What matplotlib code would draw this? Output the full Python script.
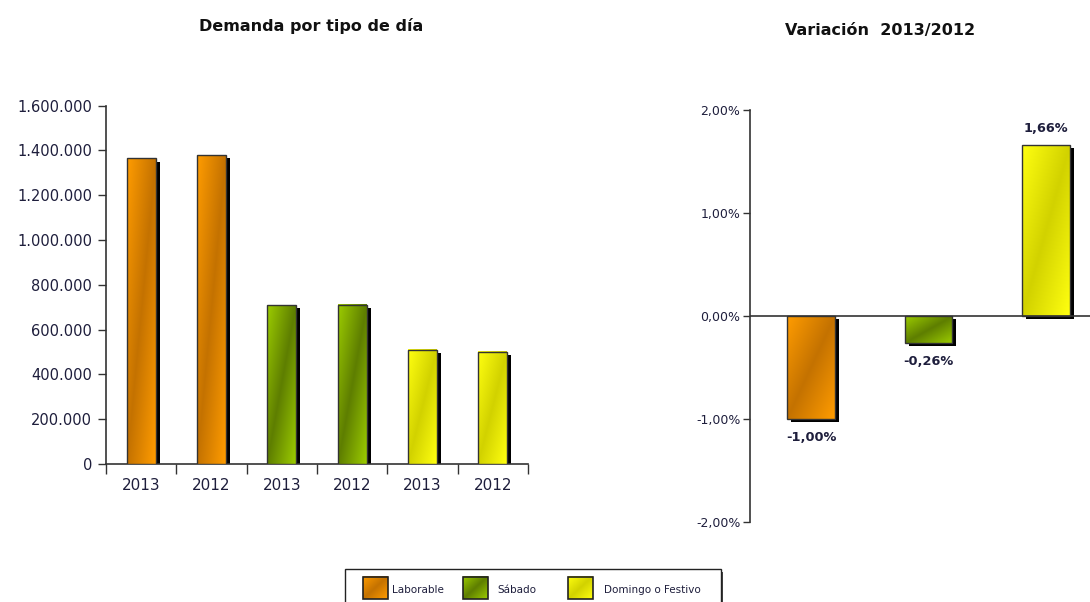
import numpy as np
import matplotlib
matplotlib.use('Agg')
import matplotlib.pyplot as plt
import matplotlib.patheffects as pe
from matplotlib.patches import Rectangle
from matplotlib.ticker import FuncFormatter

plt.rcParams['font.family'] = ['DejaVu Sans']

# --- data ---
tipos = ['Laborable', 'Sábado', 'Domingo o Festivo']
anios = ['2013', '2012']
demanda_2013 = [1366000, 710000, 509800]
demanda_2012 = [1379800, 711850, 501500]
variacion = [-1.00, -0.26, 1.66]   # %

# --- colours (light, dark) per tipo ---
COLS = [('#ff9c00', '#c47200'), ('#9ccc00', '#5e7e00'), ('#ffff10', '#d2d200')]
EDGE = '#333333'
TXT = '#1e1e3c'
SHADOW = [pe.SimplePatchShadow(offset=(3, -2.5), shadow_rgbFace='k', alpha=1), pe.Normal()]


def grad_img(light, dark, n=60):
    l = np.array(matplotlib.colors.to_rgb(light))
    d = np.array(matplotlib.colors.to_rgb(dark))
    u, v = np.meshgrid(np.linspace(0, 1, n), np.linspace(0, 1, n))
    t = (u + v) / 2
    w = 1 - np.abs(2 * t - 1)
    return l + (d - l) * w[..., None]


def fancy_bar(ax, x, h, width, cols):
    b = ax.bar(x, h, width, color=cols[1], edgecolor='none', zorder=2,
               path_effects=SHADOW)[0]
    x0, y0 = b.get_x(), b.get_y()
    ax.imshow(grad_img(*cols), extent=(x0, x0 + width, min(y0, y0 + h), max(y0, y0 + h)),
              origin='upper', aspect='auto', zorder=3, interpolation='bilinear')
    ax.bar(x, h, width, color='none', edgecolor=EDGE, linewidth=1, zorder=4)


fig = plt.figure(figsize=(10.9, 6.02), dpi=100, facecolor='white')

# ── Left: demanda ─────────────────────────────────────────
ax1 = fig.add_axes([106 / 1090, 1 - 464 / 602, 422 / 1090, 358.3 / 602])
labels, k = [], 0
for i, tipo in enumerate(tipos):
    for val, an in zip([demanda_2013[i], demanda_2012[i]], anios):
        fancy_bar(ax1, k, val, 0.41, COLS[i])
        labels.append(an)
        k += 1
ax1.set_xlim(-0.5, len(labels) - 0.5)
ax1.set_ylim(0, 1600000)
ax1.set_yticks(np.arange(0, 1600001, 200000))
ax1.yaxis.set_major_formatter(FuncFormatter(lambda v, p: f'{int(v):,}'.replace(',', '.')))
ax1.set_xticks(range(len(labels)))
ax1.set_xticklabels(labels)
ax1.set_xticks(np.arange(-0.5, len(labels)), minor=True)
ax1.tick_params(axis='x', which='major', length=0, pad=10, labelsize=11, labelcolor=TXT)
ax1.tick_params(axis='x', which='minor', length=7, width=1, color='#333333')
ax1.tick_params(axis='y', length=6, width=1, color='#333333', labelsize=10.5, labelcolor=TXT, pad=4)
for s in ['top', 'right']:
    ax1.spines[s].set_visible(False)
for s in ['left', 'bottom']:
    ax1.spines[s].set_color('#333333')
    ax1.spines[s].set_linewidth(1.2)
fig.text(311 / 1090, 1 - 26 / 602, 'Demanda por tipo de día', ha='center', va='center',
         fontsize=11.5, fontweight='bold', color='#111111')

# ── Right: variación ──────────────────────────────────────
ax2 = fig.add_axes([750 / 1090, 1 - 521.7 / 602, 340 / 1090, 411.7 / 602])
for i, v in enumerate(variacion):
    fancy_bar(ax2, i, v, 0.405, COLS[i])
    lbl = f'{v:.2f}%'.replace('.', ',')
    if v < 0:
        ax2.text(i, v - 0.12, lbl, ha='center', va='top', fontsize=9.3,
                 fontweight='bold', color=TXT)
    else:
        ax2.text(i, v + 0.1, lbl, ha='center', va='bottom', fontsize=9.3,
                 fontweight='bold', color=TXT)
ax2.axhline(0, color='#333333', lw=1.2, zorder=5)
ax2.set_xlim(-0.519, 2.374)
ax2.set_ylim(-2, 2)
ax2.set_yticks([-2, -1, 0, 1, 2])
ax2.yaxis.set_major_formatter(FuncFormatter(lambda v, p: f'{v:.2f}%'.replace('.', ',')))
ax2.set_xticks([])
ax2.tick_params(axis='y', length=5, width=1, color='#333333', labelsize=9, labelcolor=TXT, pad=2)
for s in ['top', 'right', 'bottom']:
    ax2.spines[s].set_visible(False)
ax2.spines['left'].set_color('#333333')
ax2.spines['left'].set_linewidth(1.2)
fig.text(880 / 1090, 1 - 30 / 602, 'Variación  2013/2012', ha='center', va='center',
         fontsize=11.5, fontweight='bold', color='#111111')

# ── Legend ────────────────────────────────────────────────
lg = fig.add_axes([0, 0, 1, 1], zorder=10)
lg.set_xlim(0, 1090)
lg.set_ylim(602, 0)
lg.axis('off')
lg.patch.set_alpha(0)
lg.add_patch(Rectangle((348, 571.5), 375, 40, facecolor='#444444', edgecolor='none'))
lg.add_patch(Rectangle((345, 569.3), 376, 40, facecolor='white', edgecolor='#222222', lw=1))
for (px, tx), tipo, cols in zip([(363, 392), (463, 497), (568, 604)], tipos, COLS):
    lg.imshow(grad_img(*cols), extent=(px, px + 25, 599.3, 576.7), origin='upper',
              aspect='auto', zorder=11, interpolation='bilinear')
    lg.add_patch(Rectangle((px, 576.7), 25, 22.6, facecolor='none', edgecolor='#222222',
                           lw=1.2, zorder=12))
    lg.text(tx, 590, tipo, ha='left', va='center', fontsize=7.5, color=TXT, zorder=12)
lg.set_xlim(0, 1090)
lg.set_ylim(602, 0)

fig.savefig('out.png', dpi=100, facecolor='white')
